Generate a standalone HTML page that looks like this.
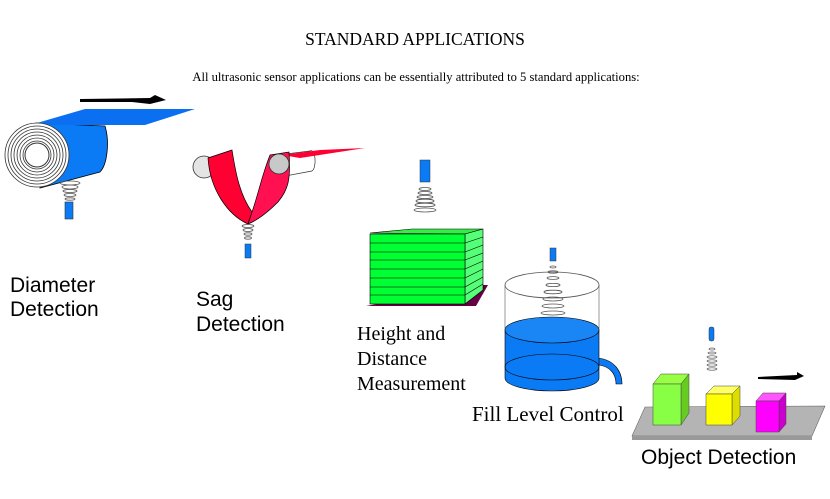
<!DOCTYPE html>
<html><head><style>
body{margin:0;background:#fff;width:830px;height:499px;overflow:hidden}
svg{display:block}
.s{font-family:"Liberation Serif",serif;fill:#000}
.a{font-family:"Liberation Sans",sans-serif;fill:#000}
</style></head><body>
<svg width="830" height="499" viewBox="0 0 830 499">
<text class="s" x="415" y="45" font-size="17.5" text-anchor="middle">STANDARD APPLICATIONS</text>
<text class="s" x="416" y="81" font-size="12.6" text-anchor="middle">All ultrasonic sensor applications can be essentially attributed to 5 standard applications:</text>

<!-- Diameter -->
<polygon points="80,99 150,98 155,95 166,100 150,104 132,102 80,102" fill="#000"/>
<path d="M36,123 L105,126 A12,30 0 0 1 100,172 L40,188 Z" fill="#0a7bf5" stroke="#000" stroke-width="0.8"/>
<polygon points="30,125 85,109 195,109 145,125" fill="#0a6ff0"/>
<g fill="none" stroke="#333" stroke-width="0.8">
<circle cx="37" cy="155" r="32" fill="#fff"/>
<circle cx="37" cy="155" r="29"/><circle cx="37" cy="155" r="26"/><circle cx="37" cy="155" r="23"/><circle cx="37" cy="155" r="20"/><circle cx="37" cy="155" r="17"/><circle cx="37" cy="155" r="14"/>
</g>
<circle cx="37" cy="155" r="12" fill="#fff" stroke="#333"/>
<g fill="none" stroke="#555" stroke-width="0.8">
<ellipse cx="70" cy="183" rx="10" ry="2"/><ellipse cx="70" cy="187" rx="8" ry="2"/><ellipse cx="70" cy="191" rx="7" ry="1.5"/><ellipse cx="70" cy="195" rx="6" ry="1.5"/><ellipse cx="70" cy="199" rx="5" ry="1.2"/>
</g>
<rect x="65" y="202" width="8" height="17" fill="#0a7bf5" stroke="#333" stroke-width="0.6"/>
<text class="a" x="10" y="292" font-size="21">Diameter</text>
<text class="a" x="10" y="316" font-size="21">Detection</text>

<!-- Sag -->
<path d="M204,157 L214,156 L214,178 L204,178 Z" fill="#e4e4e4"/>
<circle cx="204" cy="167" r="11" fill="#e4e4e4" stroke="#333" stroke-width="0.8"/>
<path d="M278,155 L310,151 A4,10 0 0 1 312,171 L280,177 Z" fill="#fff" stroke="#333" stroke-width="0.7"/>
<polygon points="282,155 320,150 365,148 300,158" fill="#ff0033"/>
<path d="M208,158 L232,150 C236,175 240,195 252,212 L248,224 C228,215 210,190 208,158 Z" fill="#ff0033" stroke="#000" stroke-width="0.7"/>
<path d="M270,155 L289,152 C291,180 288,190 278,202 C268,212 258,220 248,224 L252,212 C258,195 262,175 270,155 Z" fill="#ff1050" stroke="#000" stroke-width="0.7"/>
<circle cx="279" cy="164" r="10" fill="#c8c8c8" stroke="#333" stroke-width="0.8"/>
<g fill="none" stroke="#555" stroke-width="0.8">
<ellipse cx="248" cy="226" rx="6" ry="1.5"/><ellipse cx="248" cy="230" rx="5" ry="1.5"/><ellipse cx="248" cy="234" rx="4" ry="1.2"/><ellipse cx="248" cy="238" rx="3.5" ry="1.2"/>
</g>
<rect x="245" y="244" width="6" height="14" fill="#0a7bf5" stroke="#333" stroke-width="0.5"/>
<text class="a" x="196" y="306" font-size="21">Sag</text>
<text class="a" x="196" y="331" font-size="21">Detection</text>

<!-- Height -->
<rect x="420" y="160" width="10" height="22" fill="#0a7bf5" stroke="#333" stroke-width="0.5"/>
<g fill="none" stroke="#555" stroke-width="0.8">
<ellipse cx="425" cy="189" rx="6" ry="1.5"/><ellipse cx="425" cy="193" rx="7" ry="1.5"/><ellipse cx="425" cy="197" rx="8" ry="1.5"/><ellipse cx="425" cy="201" rx="9" ry="1.8"/><ellipse cx="425" cy="205" rx="10" ry="1.8"/><ellipse cx="425" cy="210" rx="11" ry="2"/>
</g>
<polygon points="366,306 476,306 488,285 480,285" fill="#660044"/>
<polygon points="370,233 412,229 483,229 465,234" fill="#33ee44" stroke="#000" stroke-width="0.6"/>
<polygon points="465,234 483,229 483,290 465,304" fill="#55ff77" stroke="#000" stroke-width="0.6"/>
<rect x="370" y="234" width="95" height="70" fill="#00ff33" stroke="#000" stroke-width="0.6"/>
<g stroke="#000" stroke-width="0.6">
<line x1="370" y1="243" x2="465" y2="243"/><line x1="370" y1="252" x2="465" y2="252"/><line x1="370" y1="260" x2="465" y2="260"/><line x1="370" y1="269" x2="465" y2="269"/><line x1="370" y1="278" x2="465" y2="278"/><line x1="370" y1="287" x2="465" y2="287"/><line x1="370" y1="295" x2="465" y2="295"/>
<line x1="465" y1="243" x2="483" y2="237"/><line x1="465" y1="252" x2="483" y2="245"/><line x1="465" y1="260" x2="483" y2="253"/><line x1="465" y1="269" x2="483" y2="261"/><line x1="465" y1="278" x2="483" y2="269"/><line x1="465" y1="287" x2="483" y2="277"/><line x1="465" y1="295" x2="483" y2="284"/>
</g>
<text class="s" x="357" y="340" font-size="20">Height and</text>
<text class="s" x="357" y="365" font-size="20">Distance</text>
<text class="s" x="357" y="390" font-size="20">Measurement</text>

<!-- Tank -->
<path d="M598,358 C615,360 622,372 622,384 L616,384 C616,374 610,366 598,365 Z" fill="#0a7bf5" stroke="#000" stroke-width="0.6"/>
<path d="M505,330 L505,378 A47,13 0 0 0 599,378 L599,330 Z" fill="#0a7bf5" stroke="#000" stroke-width="0.6"/>
<ellipse cx="552" cy="330" rx="47" ry="13" fill="#1a85f5" stroke="#000" stroke-width="0.6"/>
<ellipse cx="552" cy="367" rx="47" ry="13" fill="none" stroke="#000" stroke-width="0.6"/>
<line x1="505" y1="285" x2="505" y2="330" stroke="#555" stroke-width="0.6"/>
<line x1="599" y1="285" x2="599" y2="330" stroke="#555" stroke-width="0.6"/>
<ellipse cx="552" cy="285" rx="47" ry="13" fill="none" stroke="#555" stroke-width="0.8"/>
<rect x="550" y="248" width="6" height="13" fill="#0a7bf5" stroke="#333" stroke-width="0.5"/>
<g fill="none" stroke="#555" stroke-width="0.8">
<ellipse cx="553" cy="267" rx="3" ry="1"/><ellipse cx="553" cy="272" rx="5" ry="1.2"/><ellipse cx="553" cy="278" rx="6" ry="1.4"/><ellipse cx="553" cy="285" rx="7" ry="1.6"/><ellipse cx="553" cy="292" rx="9" ry="1.8"/><ellipse cx="553" cy="299" rx="10" ry="2"/><ellipse cx="553" cy="306" rx="11" ry="2"/><ellipse cx="553" cy="313" rx="12" ry="2"/>
</g>
<text class="s" x="472" y="421" font-size="21">Fill Level Control</text>

<!-- Object -->
<rect x="709" y="327" width="5" height="14" rx="2" fill="#0a7bf5" stroke="#333" stroke-width="0.5"/>
<g fill="none" stroke="#555" stroke-width="0.7">
<ellipse cx="712" cy="349" rx="3" ry="1"/><ellipse cx="712" cy="353" rx="4" ry="1"/><ellipse cx="712" cy="357" rx="5" ry="1.2"/><ellipse cx="712" cy="361" rx="5" ry="1.2"/><ellipse cx="712" cy="365" rx="5" ry="1.2"/><ellipse cx="712" cy="369" rx="5" ry="1.2"/>
</g>
<polygon points="758,377 797,375 797,372 804,376 795,380 758,379" fill="#000"/>
<polygon points="632,436 645,407 825,406 812,436" fill="#b4b4b4" stroke="#666" stroke-width="0.6"/>
<polygon points="632,436 812,436 812,440 632,440" fill="#999"/>
<polygon points="653,384 661,374 689,374 681,384" fill="#99ff44" stroke="#444" stroke-width="0.5"/>
<polygon points="681,384 689,374 689,413 681,425" fill="#66cc22" stroke="#444" stroke-width="0.5"/>
<rect x="653" y="384" width="28" height="41" fill="#88ff44" stroke="#444" stroke-width="0.5"/>
<polygon points="706,394 714,386 740,386 732,394" fill="#ffff66" stroke="#444" stroke-width="0.5"/>
<polygon points="732,394 740,386 740,416 732,425" fill="#dddd00" stroke="#444" stroke-width="0.5"/>
<rect x="706" y="394" width="26" height="31" fill="#ffff00" stroke="#444" stroke-width="0.5"/>
<polygon points="756,401 763,393 786,393 779,401" fill="#ff55ff" stroke="#444" stroke-width="0.5"/>
<polygon points="779,401 786,393 786,424 779,432" fill="#cc00cc" stroke="#444" stroke-width="0.5"/>
<rect x="756" y="401" width="23" height="31" fill="#ff00ff" stroke="#444" stroke-width="0.5"/>
<text class="a" x="641" y="464" font-size="21">Object Detection</text>
</svg>
</body></html>
